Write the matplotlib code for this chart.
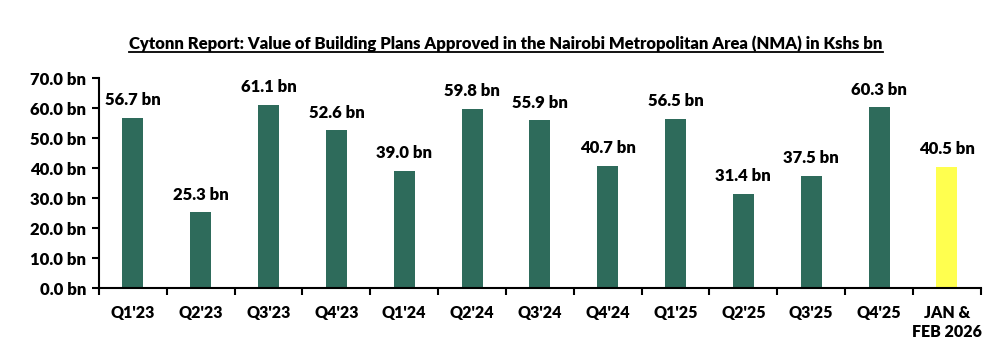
import matplotlib
matplotlib.use("Agg")
import matplotlib.pyplot as plt
import numpy as np

categories = ["Q1'23", "Q2'23", "Q3'23", "Q4'23", "Q1'24", "Q2'24", "Q3'24", "Q4'24",
              "Q1'25", "Q2'25", "Q3'25", "Q4'25", "JAN &\nFEB 2026"]
values = [56.7, 25.3, 61.1, 52.6, 39.0, 59.8, 55.9, 40.7, 56.5, 31.4, 37.5, 60.3, 40.5]
colors = ["#2E6B5B"] * 12 + ["#FFFF4F"]
yticks = [0, 10, 20, 30, 40, 50, 60, 70]

plt.rcParams['font.family'] = ['Lato', 'DejaVu Sans']
W = 'heavy'

fig = plt.figure(figsize=(10.02, 3.5), dpi=100)
ax = fig.add_axes([0.0988, 0.177, 0.880, 0.600])
x = np.arange(len(categories))
bars = ax.bar(x, values, width=0.31, color=colors)
for xi, v in zip(x, values):
    ax.text(xi, v + 3.2, f"{v:.1f} bn", ha='center', va='bottom', fontsize=12, fontweight=W)

ax.set_ylim(0, 70)
ax.set_xlim(-0.5, len(categories) - 0.5)
ax.set_yticks(yticks)
ax.set_yticklabels([f"{t:.1f} bn" for t in yticks], fontsize=12, fontweight=W)
ax.set_xticks(x)
ax.set_xticklabels(categories, fontsize=11.5, fontweight=W, linespacing=1.25, va='top')
ax.tick_params(axis='x', length=0, pad=12)
ax.set_xticks(np.arange(-0.5, len(categories)), minor=True)
ax.tick_params(axis='x', which='minor', length=5, width=1.5, direction='out')
ax.tick_params(axis='y', length=5, width=1.5, direction='out', pad=4)
for s in ['top', 'right']:
    ax.spines[s].set_visible(False)
for s in ['left', 'bottom']:
    ax.spines[s].set_linewidth(1.5)

title = fig.text(0.505, 0.85, "Cytonn Report: Value of Building Plans Approved in the Nairobi Metropolitan Area (NMA) in Kshs bn",
                 ha='center', va='bottom', fontsize=12, fontweight=W)
fig.canvas.draw()
bb = title.get_window_extent().transformed(fig.transFigure.inverted())
fig.add_artist(plt.Line2D([bb.x0, bb.x1], [bb.y0 + 0.002, bb.y0 + 0.002], transform=fig.transFigure,
                          color='black', linewidth=1.3))
fig.savefig("out.png", dpi=100)
